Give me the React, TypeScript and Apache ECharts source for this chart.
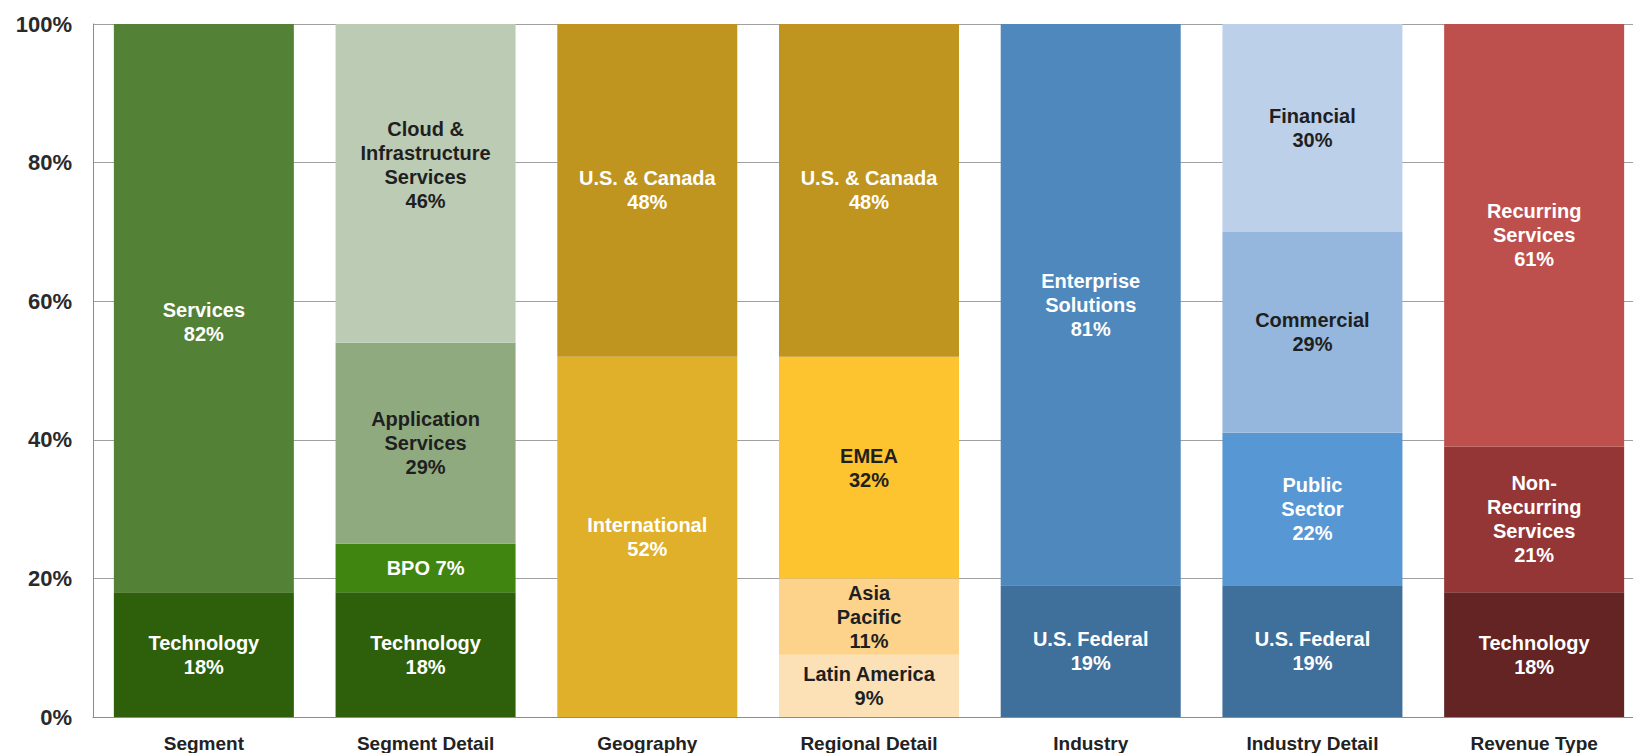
import React, { useEffect, useRef } from "react";
import * as echarts from "echarts";

// ---- Data ----
const categories = [
  "Segment",
  "Segment Detail",
  "Geography",
  "Regional Detail",
  "Industry",
  "Industry Detail",
  "Revenue Type",
];
const yTicks = [0, 20, 40, 60, 80, 100];

const segmentNames = ["Technology", "Services"];
const segmentValues = [18, 82];

const segmentDetailNames = ["Technology", "BPO", "Application\nServices", "Cloud &\nInfrastructure\nServices"];
const segmentDetailValues = [18, 7, 29, 46];

const geographyNames = ["International", "U.S. & Canada"];
const geographyValues = [52, 48];

const regionalNames = ["Latin America", "Asia\nPacific", "EMEA", "U.S. & Canada"];
const regionalValues = [9, 11, 32, 48];

const industryNames = ["U.S. Federal", "Enterprise\nSolutions"];
const industryValues = [19, 81];

const industryDetailNames = ["U.S. Federal", "Public\nSector", "Commercial", "Financial"];
const industryDetailValues = [19, 22, 29, 30];

const revenueTypeNames = ["Technology", "Non-\nRecurring\nServices", "Recurring\nServices"];
const revenueTypeValues = [18, 21, 61];

// ---- Styles ----
const segmentColors = ["#2e5f0a", "#538135"];
const segmentDetailColors = ["#2e5f0a", "#3f850f", "#8faa7f", "#bccbb4"];
const geographyColors = ["#e0b02a", "#c0951f"];
const regionalColors = ["#fde1b6", "#fdd38b", "#fdc42f", "#c0951f"];
const industryColors = ["#3f6f9b", "#4f88bd"];
const industryDetailColors = ["#3f6f9b", "#5797d4", "#96b7dd", "#bcd0e9"];
const revenueTypeColors = ["#632423", "#943635", "#bd504d"];

const DARK = "#1f1f1f";
const LIGHT = "#ffffff";
const segmentText = [LIGHT, LIGHT];
const segmentDetailText = [LIGHT, LIGHT, DARK, DARK];
const geographyText = [LIGHT, LIGHT];
const regionalText = [DARK, DARK, DARK, LIGHT];
const industryText = [LIGHT, LIGHT];
const industryDetailText = [LIGHT, LIGHT, DARK, DARK];
const revenueTypeText = [LIGHT, LIGHT, LIGHT];

// label nudges (column index, layer index) -> [dx, dy]
const labelOffsets: Record<string, [number, number]> = {
  "0-1": [0, 14],
  "1-3": [0, -18],
};
const inlineLabels = new Set(["BPO"]);

const columns = [
  { names: segmentNames, values: segmentValues, colors: segmentColors, text: segmentText },
  { names: segmentDetailNames, values: segmentDetailValues, colors: segmentDetailColors, text: segmentDetailText },
  { names: geographyNames, values: geographyValues, colors: geographyColors, text: geographyText },
  { names: regionalNames, values: regionalValues, colors: regionalColors, text: regionalText },
  { names: industryNames, values: industryValues, colors: industryColors, text: industryText },
  { names: industryDetailNames, values: industryDetailValues, colors: industryDetailColors, text: industryDetailText },
  { names: revenueTypeNames, values: revenueTypeValues, colors: revenueTypeColors, text: revenueTypeText },
];

const FONT = "'Liberation Sans', Arial, sans-serif";

export default function App() {
  const ref = useRef<HTMLDivElement>(null);

  useEffect(() => {
    if (!ref.current) return;
    document.body.style.margin = "0";
    document.body.style.overflow = "hidden";
    const chart = echarts.init(ref.current, undefined, { renderer: "svg" });

    const maxLayers = Math.max(...columns.map((c) => c.values.length));
    const series: any[] = [];
    for (let layer = 0; layer < maxLayers; layer++) {
      series.push({
        type: "bar",
        stack: "total",
        barWidth: 180,
        data: columns.map((col, ci) => {
          if (layer >= col.values.length) return "-";
          const name = col.names[layer];
          const v = col.values[layer];
          const sep = inlineLabels.has(name) ? " " : "\n";
          const off = labelOffsets[`${ci}-${layer}`] || [0, 0];
          return {
            value: v,
            itemStyle: { color: col.colors[layer] },
            label: {
              show: true,
              position: "inside",
              formatter: `${name}${sep}${v}%`,
              color: col.text[layer],
              fontFamily: FONT,
              fontWeight: "bold",
              fontSize: 20,
              lineHeight: 24,
              offset: off,
            },
          };
        }),
      });
    }

    chart.setOption({
      animation: false,
      backgroundColor: "#ffffff",
      grid: { left: 93, right: 0, top: 24, bottom: 35, containLabel: false },
      xAxis: {
        type: "category",
        data: categories,
        axisTick: { show: false },
        axisLine: { show: true, lineStyle: { color: "#8c8c8c", width: 1 } },
        axisLabel: {
          margin: 17,
          fontFamily: FONT,
          fontWeight: "bold",
          fontSize: 19,
          color: "#222222",
          interval: 0,
        },
      },
      yAxis: {
        type: "value",
        min: yTicks[0],
        max: yTicks[yTicks.length - 1],
        interval: yTicks[1] - yTicks[0],
        axisLine: { show: true, lineStyle: { color: "#8c8c8c", width: 1 } },
        axisTick: { show: false },
        splitLine: { show: true, lineStyle: { color: "#a0a0a0", width: 1 } },
        axisLabel: {
          margin: 21,
          formatter: "{value}%",
          fontFamily: FONT,
          fontWeight: "bold",
          fontSize: 22,
          color: "#2a2a2a",
        },
      },
      series,
    });

    return () => chart.dispose();
  }, []);

  return (
    <div
      ref={ref}
      style={{ position: "fixed", left: 0, top: 0, width: 1645, height: 753 }}
    />
  );
}
